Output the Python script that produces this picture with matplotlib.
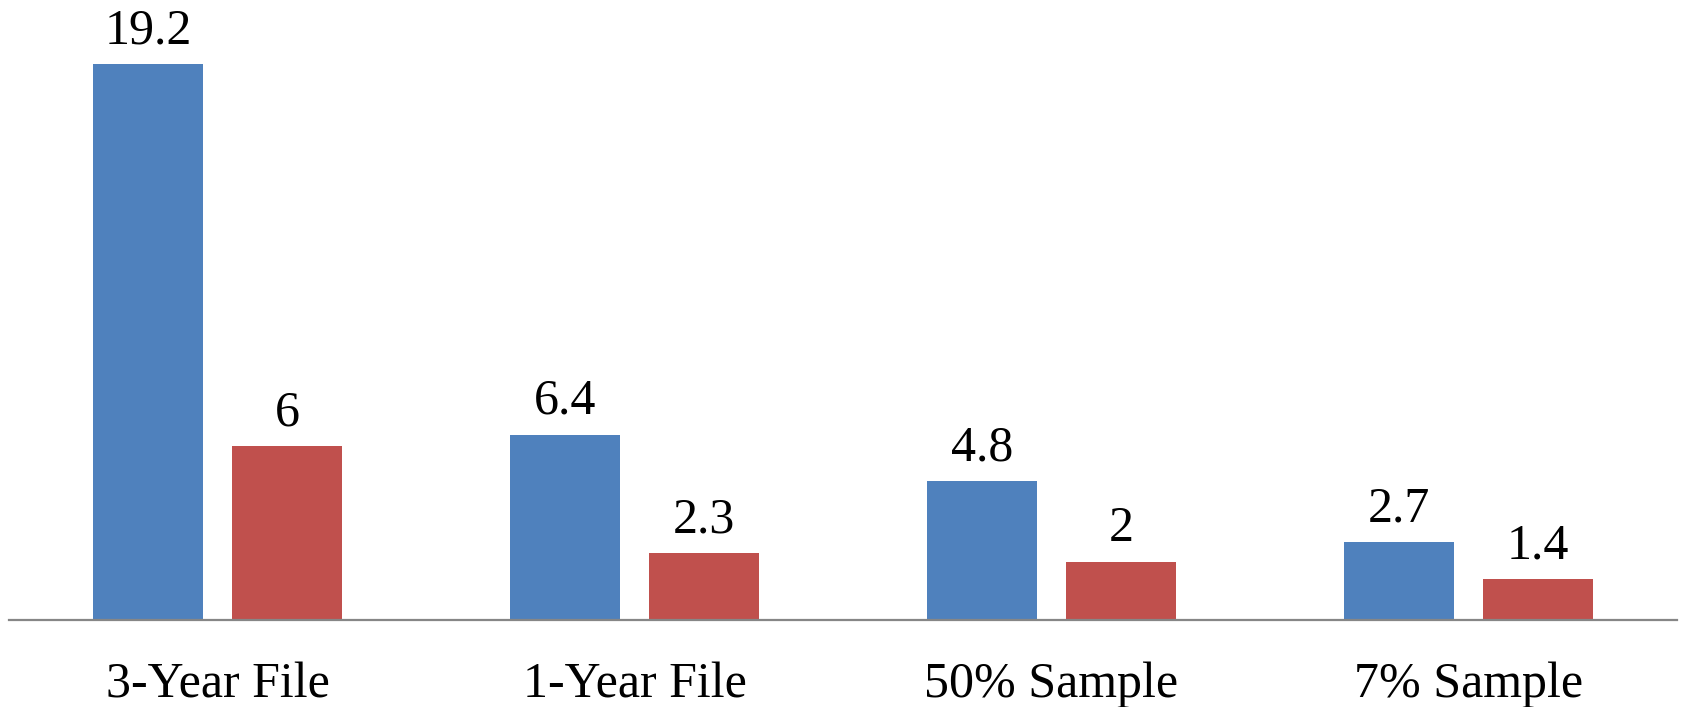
import matplotlib.pyplot as plt
import numpy as np

categories = ['3-Year File', '1-Year File', '50% Sample', '7% Sample']
series_a = [19.2, 6.4, 4.8, 2.7]
series_b = [6, 2.3, 2, 1.4]
labels_a = ['19.2', '6.4', '4.8', '2.7']
labels_b = ['6', '2.3', '2', '1.4']

W, H = 1683, 707
plt.rcParams['font.family'] = ['Liberation Serif', 'DejaVu Serif']

fig = plt.figure(figsize=(W / 100, H / 100), dpi=100)
ax = fig.add_axes([9 / W, 87 / H, 1668 / W, 620 / H])

x = np.arange(len(categories))
bw = 0.266
off = 0.1667
bars_a = ax.bar(x - off, series_a, bw, color='#4F81BD')
bars_b = ax.bar(x + off, series_b, bw, color='#C0504D')

for bars, labs in ((bars_a, labels_a), (bars_b, labels_b)):
    for b, t in zip(bars, labs):
        ax.annotate(t, (b.get_x() + b.get_width() / 2, b.get_height()),
                    xytext=(0, 7), textcoords='offset points',
                    ha='center', va='bottom', fontsize=36)

ax.set_xlim(-0.5, len(categories) - 0.5)
ax.set_ylim(0, 21.41)
ax.set_xticks(x)
ax.set_xticklabels(categories, fontsize=36)
ax.tick_params(axis='x', length=0, pad=30)
ax.set_yticks([])
for s in ['top', 'right', 'left']:
    ax.spines[s].set_visible(False)
ax.spines['bottom'].set_color('#868686')
ax.spines['bottom'].set_linewidth(1.6)

fig.savefig('out.png', dpi=100)
